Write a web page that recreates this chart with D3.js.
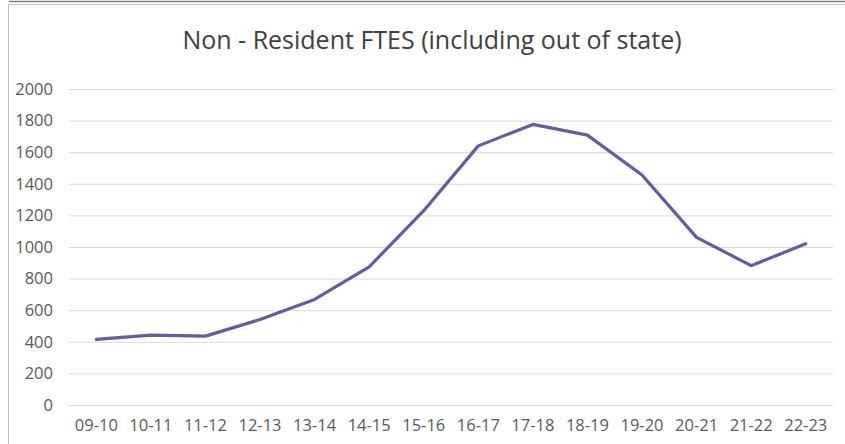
<!DOCTYPE html>
<html>
<head>
<meta charset="utf-8">
<script src="https://cdn.jsdelivr.net/npm/d3@7"></script>
<style>
  body { margin: 0; background: #fff; }
  text { font-family: "Open Sans", "Noto Sans", sans-serif; }
</style>
</head>
<body>
<div id="chart"></div>
<script>
// data
const years = ["09-10", "10-11", "11-12", "12-13", "13-14", "14-15", "15-16",
               "16-17", "17-18", "18-19", "19-20", "20-21", "21-22", "22-23"];
const ftes = [415, 442, 436, 541, 668, 874, 1230, 1640, 1776, 1708, 1456, 1061, 882, 1020];
const yTicks = [0, 200, 400, 600, 800, 1000, 1200, 1400, 1600, 1800, 2000];
const title = "Non - Resident FTES (including out of state)";

let width = 845, height = 444;
let margin = {top: 89, right: 12, bottom: 39, left: 69};
let innerW = width - margin.left - margin.right,
    innerH = height - margin.top - margin.bottom;

let svg = d3.select("#chart")
    .append("svg")
        .attr("width", width)
        .attr("height", height);

// frame like the screenshot (dark line on top, grey border at left)
svg.append("line")
    .attr("x1", 9).attr("x2", width)
    .attr("y1", 1.5).attr("y2", 1.5)
    .attr("stroke", "#7f7f7f").attr("stroke-width", 1.5);
svg.append("path")
    .attr("d", `M8.5,${height} V4.5 H${width}`)
    .attr("fill", "none")
    .attr("stroke", "#bfbfbf");

svg.append("text")
    .attr("x", 432)
    .attr("y", 49)
    .attr("text-anchor", "middle")
    .attr("font-size", 25)
    .attr("fill", "#404040")
    .text(title);

let g = svg.append("g")
    .attr("transform", `translate(${margin.left},${margin.top})`);

let x = d3.scaleBand()
    .domain(years)
    .range([0, innerW]);

let y = d3.scaleLinear()
    .domain([0, 2000])
    .range([innerH, 0]);

// gridlines
g.append("g")
    .call(d3.axisLeft(y).tickValues(yTicks).tickSize(-innerW).tickFormat(""))
    .call(a => a.select(".domain").remove())
    .call(a => a.selectAll("line").attr("stroke", "#d9d9d9").attr("stroke-width", 1));

// y labels
g.append("g")
    .call(d3.axisLeft(y).tickValues(yTicks).tickSize(0).tickPadding(16).tickFormat(d3.format("d")))
    .call(a => a.select(".domain").remove())
    .call(a => a.selectAll("text")
        .attr("font-size", 16.5)
        .attr("fill", "#595959")
        .style("font-family", "'Open Sans', sans-serif"));

// x labels
g.append("g")
    .attr("transform", `translate(0,${innerH})`)
    .call(d3.axisBottom(x).tickSize(0).tickPadding(14))
    .call(a => a.select(".domain").remove())
    .call(a => a.selectAll("text")
        .attr("font-size", 16.5)
        .attr("fill", "#595959")
        .style("font-family", "'Open Sans', sans-serif"));

let line = d3.line()
    .x((d, i) => x(years[i]) + x.bandwidth() / 2)
    .y(d => y(d));

g.append("path")
    .datum(ftes)
    .attr("fill", "none")
    .attr("stroke", "#5f5f99")
    .attr("stroke-width", 3.2)
    .attr("stroke-linejoin", "round")
    .attr("stroke-linecap", "round")
    .attr("d", line);
</script>
</body>
</html>
